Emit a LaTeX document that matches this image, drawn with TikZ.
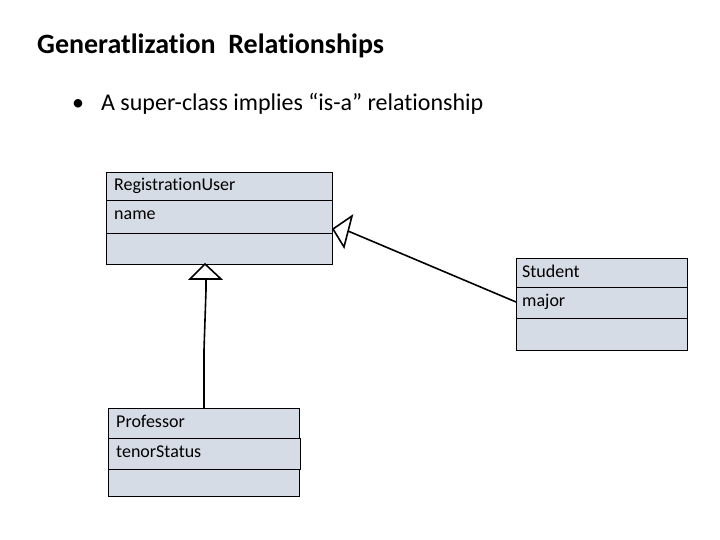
\documentclass[tikz,border=0pt]{standalone}
\usepackage{fontspec}
\setmainfont{Carlito}[Ligatures=NoCommon]
\usetikzlibrary{positioning}
\definecolor{boxfill}{RGB}{214,220,229}
\begin{document}
\begin{tikzpicture}[x=1pt,y=-1pt,
  compart/.style={draw=black, fill=boxfill, line width=0.8pt, anchor=north west, inner sep=0pt},
  ctext/.style={anchor=base west, font=\fontsize{18}{20}\selectfont, inner sep=0pt},
  gen/.style={line width=1.6pt},
  tri/.style={draw=black, fill=white, line width=1.6pt, line join=miter}
]
\useasboundingbox (0,0) rectangle (720,540);
% title
\node[anchor=west, font=\fontsize{28}{32}\bfseries\selectfont, inner sep=0pt] (title) at (37,46) {Generatlization\ \ Relationships};
\node[anchor=west, font=\fontsize{24}{28}\selectfont, inner sep=0pt] (bullet) at (72,104) {\textbullet\hspace{17pt}A super-class implies “is-a” relationship};

% RegistrationUser
\draw[compart] (106,172) rectangle (332,200);
\draw[compart] (106,200) rectangle (332,233);
\draw[compart] (106,233) rectangle (332,264);
\node[ctext] (ru) at (114,191) {RegistrationUser};
\node[ctext] (run) at (114,219) {name};
\coordinate (ruright) at (332,229);
\coordinate (rubottom) at (205,264);

% Student
\draw[compart] (516,258) rectangle (687,287);
\draw[compart] (516,287) rectangle (687,318);
\draw[compart] (516,318) rectangle (687,350);
\node[ctext] (st) at (522,277) {Student};
\node[ctext] (stm) at (522,306) {major};
\coordinate (stleft) at (516,302);

% Professor
\draw[compart] (108,408) rectangle (299,438);
\draw[compart] (108,438) rectangle (300,469);
\draw[compart] (108,469) rectangle (299,496);
\node[ctext] (pr) at (116,427) {Professor};
\node[ctext] (prt) at (116,457) {tenorStatus};
\coordinate (prtop) at (204,408);

% generalization: Student -> RegistrationUser
\coordinate (t1b) at (348,231);
\draw[gen] (stleft) -- (t1b);
\draw[tri] (333,229) -- (352,216) -- (344,247) -- cycle;

% generalization: Professor -> RegistrationUser
\coordinate (t2b) at (206,278);
\draw[gen] (prtop) -- (204,350) -- (206,290) -- (t2b);
\draw[tri] (rubottom) -- (221,279) -- (190,279) -- cycle;
\end{tikzpicture}
\end{document}
